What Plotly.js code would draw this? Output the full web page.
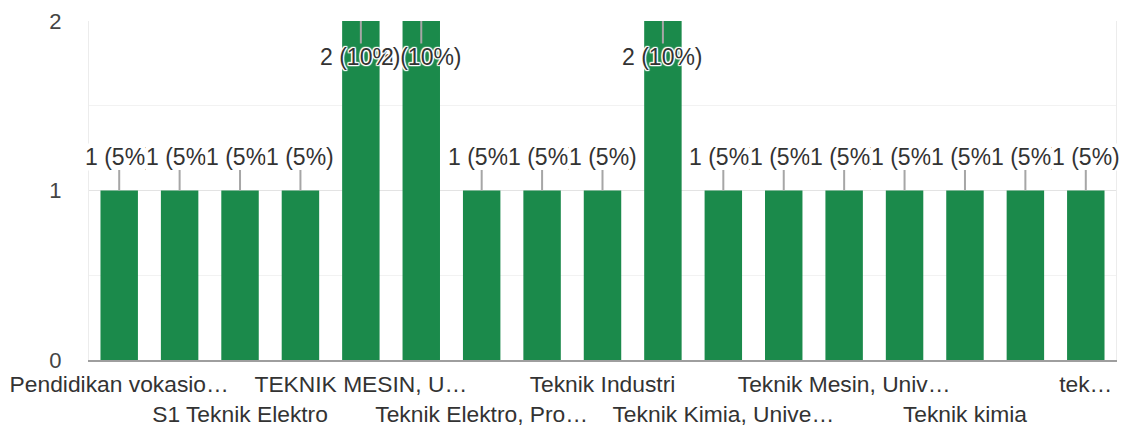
<!DOCTYPE html>
<html>
<head>
<meta charset="utf-8">
<script src="https://cdn.plot.ly/plotly-3.0.1.min.js"></script>
<style>html,body{margin:0;padding:0;background:#fff;}#chart{width:1125px;height:432px;}</style>
</head>
<body>
<div id="chart"></div>
<script>
// Category tick labels as shown (every other category labelled, "" = not shown)
const tickLabels = [
  "Pendidikan vokasio…", "", "S1 Teknik Elektro", "", "TEKNIK MESIN, U…", "",
  "Teknik Elektro, Pro…", "", "Teknik Industri", "", "Teknik Kimia, Unive…", "",
  "Teknik Mesin, Univ…", "", "Teknik kimia", "", "tek…"
];
const counts = [1, 1, 1, 1, 2, 2, 1, 1, 1, 2, 1, 1, 1, 1, 1, 1, 1];
const percents = [5, 5, 5, 5, 10, 10, 5, 5, 5, 10, 5, 5, 5, 5, 5, 5, 5];

const xs = counts.map((_, i) => i);
const yMax = Math.max(...counts);

// tick labels alternate between two rows
const tickvals = [], ticktext = [];
let row = 0;
tickLabels.forEach((t, i) => {
  if (t !== "") {
    tickvals.push(i);
    ticktext.push(row % 2 === 0 ? t : "<br>" + t);
    row++;
  }
});

const halo = "1px 0 1px #fff, -1px 0 1px #fff, 0 1px 1px #fff, 0 -1px 1px #fff, 1px 1px 1px #fff, -1px -1px 1px #fff, 1px -1px 1px #fff, -1px 1px 1px #fff";

const annotations = counts.map((v, i) => {
  const atTop = v >= yMax;
  return {
    x: xs[i], y: v, xref: 'x', yref: 'y',
    text: v + " (" + percents[i] + "%)",
    showarrow: true, arrowhead: 0, arrowwidth: 2, arrowcolor: '#a6a6a6',
    ax: 0, ay: atTop ? 36 : -34, standoff: 0,
    bgcolor: atTop ? 'rgba(0,0,0,0)' : '#ffffff',
    borderpad: 0,
    font: {family: 'Liberation Sans, Arial, sans-serif', size: 23, color: '#333333', shadow: halo}
  };
});

const trace = {
  type: 'bar', x: xs, y: counts,
  marker: {color: '#1b8a4b'},
  width: 0.62,
  hoverinfo: 'none'
};

const layout = {
  width: 1125, height: 432,
  margin: {l: 89, r: 9, t: 21, b: 72},
  paper_bgcolor: '#fff', plot_bgcolor: '#fff',
  showlegend: false,
  font: {family: 'Liberation Sans, Arial, sans-serif', color: '#444'},
  xaxis: {
    range: [-0.5, counts.length - 0.5],
    tickvals: tickvals, ticktext: ticktext,
    tickangle: 0,
    tickfont: {size: 22.8, color: '#333'},
    showgrid: false, zeroline: false,
    showline: true, linecolor: '#9e9e9e', linewidth: 2,
    ticks: '', ticklabelstandoff: 3,
    fixedrange: true
  },
  yaxis: {
    range: [0, yMax],
    dtick: 1, tick0: 0,
    tickfont: {size: 22, color: '#444'},
    gridcolor: '#e3e3e3', gridwidth: 1,
    minor: {dtick: 0.5, showgrid: true, gridcolor: '#f2f2f2', gridwidth: 1},
    zeroline: false,
    showline: true, linecolor: '#ececec', linewidth: 1, mirror: true,
    ticks: '', ticklabelstandoff: 22,
    fixedrange: true
  },
  annotations: annotations
};

Plotly.newPlot('chart', [trace], layout, {displayModeBar: false, staticPlot: true});
</script>
</body>
</html>
